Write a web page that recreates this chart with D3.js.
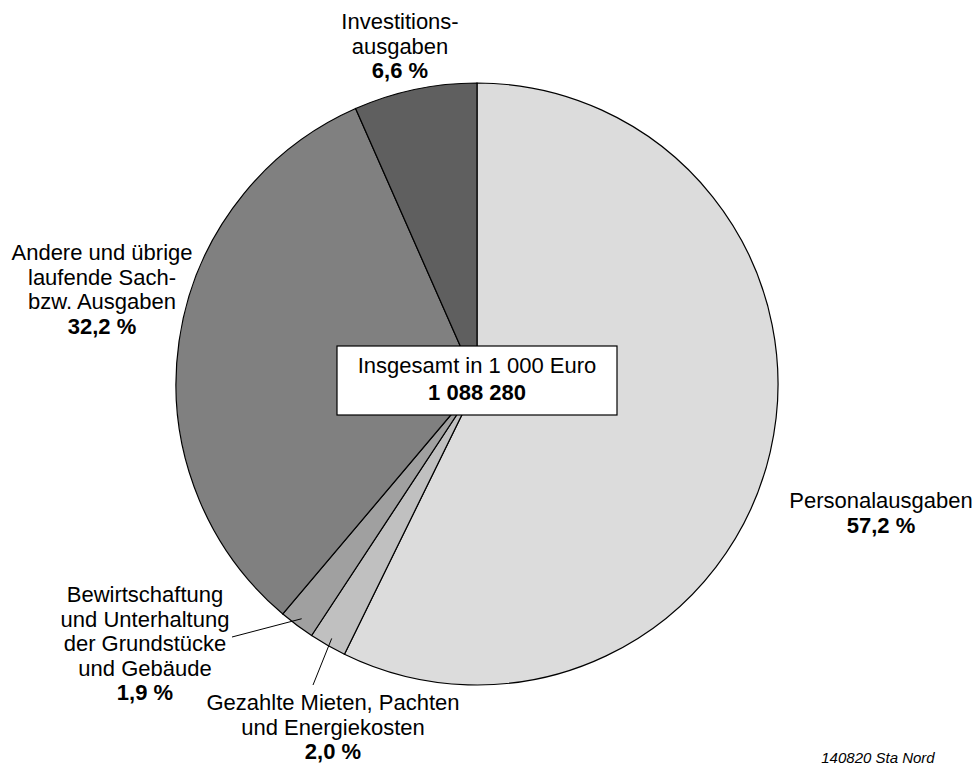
<!DOCTYPE html>
<html>
<head>
<meta charset="utf-8">
<script src="https://d3js.org/d3.v7.min.js"></script>
<style>
  body { margin: 0; background: #fff; }
  text { font-family: "Liberation Sans", Arial, sans-serif; fill: #000; }
  .slice { stroke: #000; stroke-width: 1.2; }
</style>
</head>
<body>
<svg width="980" height="766"></svg>
<script>
// data, clockwise from 12 o'clock
var categories = ["Personalausgaben", "Gezahlte Mieten, Pachten und Energiekosten",
                  "Bewirtschaftung und Unterhaltung der Grundstücke und Gebäude",
                  "Andere und übrige laufende Sach- bzw. Ausgaben", "Investitionsausgaben"];
var shares = [57.2, 2.0, 1.9, 32.2, 6.6];
var shareLabels = ["57,2 %", "2,0 %", "1,9 %", "32,2 %", "6,6 %"];
var labelLines = [
  ["Personalausgaben"],
  ["Gezahlte Mieten, Pachten", "und Energiekosten"],
  ["Bewirtschaftung", "und Unterhaltung", "der Grundstücke", "und Gebäude"],
  ["Andere und übrige", "laufende Sach-", "bzw. Ausgaben"],
  ["Investitions-", "ausgaben"]
];
var totalTitle = "Insgesamt in 1 000 Euro";
var totalValue = "1 088 280";
var footnote = "140820 Sta Nord";

var colors = ["#dcdcdc", "#c0c0c0", "#a0a0a0", "#808080", "#5f5f5f"];

// layout
var cx = 477, cy = 384, R = 301;
var labelPos = [
  {x: 881, y: 508, leader: false},
  {x: 333, y: 710, leader: true, lx: 313, ly: 685},
  {x: 145, y: 602, leader: true, lx: 232, ly: 637},
  {x: 102, y: 260, leader: false},
  {x: 400, y: 29,  leader: false}
];
var lineH = 24.6;

var svg = d3.select("svg");
var g = svg.append("g").attr("transform", "translate(" + cx + "," + cy + ")");

var pie = d3.pie().sort(null).value(function(d) { return d; })
  .startAngle(0).endAngle(2 * Math.PI);
var arc = d3.arc().innerRadius(0).outerRadius(R);
var leaderArc = d3.arc().innerRadius(293).outerRadius(293);

var arcs = pie(shares);

g.selectAll("path.slice")
  .data(arcs)
  .enter()
  .append("path")
  .attr("class", "slice")
  .attr("d", arc)
  .attr("fill", function(d, i) { return colors[i]; });

// leader lines
arcs.forEach(function(d, i) {
  var p = labelPos[i];
  if (!p.leader) return;
  var c = leaderArc.centroid(d);
  svg.append("line")
    .attr("x1", cx + c[0]).attr("y1", cy + c[1])
    .attr("x2", p.lx).attr("y2", p.ly)
    .attr("stroke", "#000").attr("stroke-width", 1);
});

// labels
labelLines.forEach(function(lines, i) {
  var p = labelPos[i];
  var t = svg.append("text")
    .attr("text-anchor", "middle")
    .attr("font-size", "22px");
  lines.forEach(function(s, k) {
    t.append("tspan").attr("x", p.x).attr("y", p.y + k * lineH).text(s);
  });
  t.append("tspan").attr("x", p.x).attr("y", p.y + lines.length * lineH)
    .attr("font-weight", "bold").text(shareLabels[i]);
});

// total box
svg.append("rect")
  .attr("x", cx - 140).attr("y", 346)
  .attr("width", 280).attr("height", 69)
  .attr("fill", "#fff").attr("stroke", "#000").attr("stroke-width", 1.2);
svg.append("text").attr("x", cx).attr("y", 373)
  .attr("text-anchor", "middle").attr("font-size", "22px").text(totalTitle);
svg.append("text").attr("x", cx).attr("y", 400)
  .attr("text-anchor", "middle").attr("font-size", "22px")
  .attr("font-weight", "bold").text(totalValue);

svg.append("text").attr("x", 878).attr("y", 763)
  .attr("text-anchor", "middle").attr("font-size", "15px")
  .attr("font-style", "italic").text(footnote);
</script>
</body>
</html>
